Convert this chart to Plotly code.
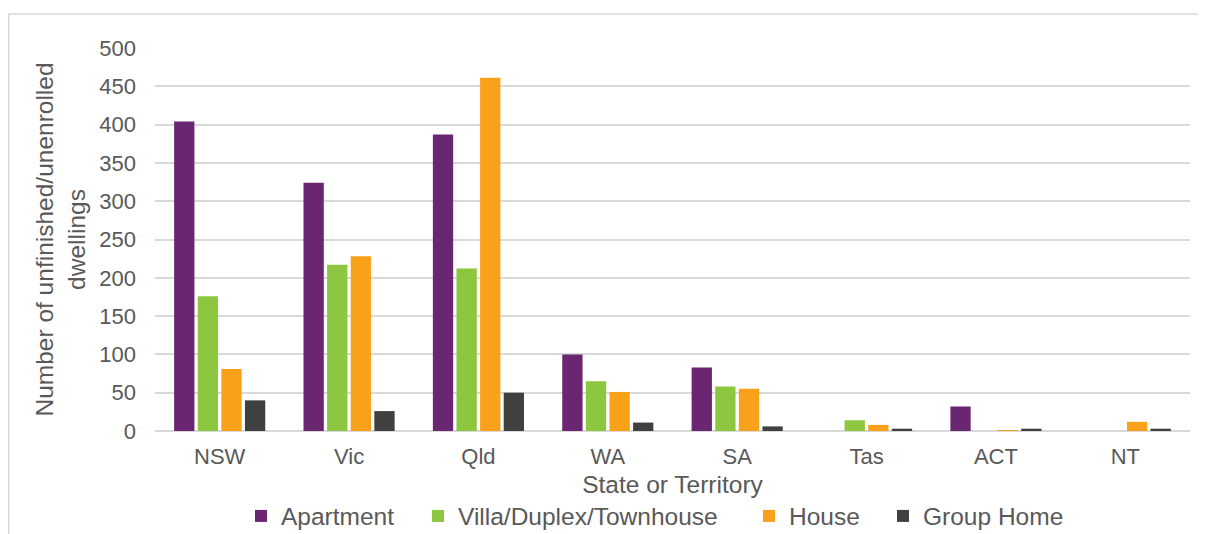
import plotly.graph_objects as go

states = ["NSW", "Vic", "Qld", "WA", "SA", "Tas", "ACT", "NT"]
apartment = [404, 324, 387, 100, 83, 0, 32, 0]
villa = [176, 217, 212, 65, 58, 14, 0, 0]
house = [81, 228, 461, 51, 55, 8, 1, 12]
group_home = [40, 26, 50, 11, 6, 3, 3, 3]

series = [
    ("Apartment", apartment, "#6B2671"),
    ("Villa/Duplex/Townhouse", villa, "#8DC63F"),
    ("House", house, "#F9A11B"),
    ("Group Home", group_home, "#404040"),
]

font_family = "Liberation Sans, Arial, sans-serif"
grey = "#595959"

# plot area in figure pixels (page has an 8px body margin)
W, H = 1198, 526
L, R, T, B = 147, 16, 40, 103
pw = W - L - R
ph = H - T - B

# left edge of each legend marker, figure pixels
legend_px = [247, 424, 755, 889]
legend_names = ["legend", "legend2", "legend3", "legend4"]

fig = go.Figure()
for (name, vals, col), lg in zip(series, legend_names):
    fig.add_trace(go.Bar(x=states, y=vals, name=name, marker_color=col,
                         marker_line_width=0, legend=lg))

layout_legends = {}
for lg, px in zip(legend_names, legend_px):
    layout_legends[lg] = dict(
        x=(px - 14 - L) / pw, xanchor="left",
        y=(T + ph - 508) / ph, yanchor="middle",
        orientation="h", font=dict(size=24.5, color=grey, family=font_family),
        bgcolor="rgba(0,0,0,0)", borderwidth=0, itemwidth=30,
    )

fig.update_layout(
    width=W, height=H,
    barmode="group", bargap=0.27, bargroupgap=0.14,
    plot_bgcolor="white", paper_bgcolor="white",
    font=dict(family=font_family, color=grey, size=22),
    margin=dict(l=L, r=R, t=T, b=B, autoexpand=False),
    showlegend=True,
    **layout_legends,
)
fig.update_xaxes(
    title=dict(text="State or Territory", font=dict(size=24.5), standoff=7),
    showgrid=False, showline=False, ticks="",
    tickfont=dict(size=22), ticklabelstandoff=10,
)
fig.update_yaxes(
    title=dict(text="Number of unfinished/unenrolled<br>dwellings", font=dict(size=24.5), standoff=6),
    range=[0, 500], dtick=50, showgrid=True, gridcolor="#D9D9D9", gridwidth=1.5,
    zeroline=True, zerolinecolor="#D9D9D9", zerolinewidth=1.5,
    tickfont=dict(size=22), ticklabelstandoff=18,
)

# outer chart border (light grey frame as in the source image)
fig.add_shape(type="rect", xref="paper", yref="paper",
              x0=(0.75 - L) / pw, x1=1.03, y0=-0.3, y1=(T + ph - 6) / ph,
              line=dict(color="#D9D9D9", width=1.5), layer="below")

fig.write_html("out.html")
